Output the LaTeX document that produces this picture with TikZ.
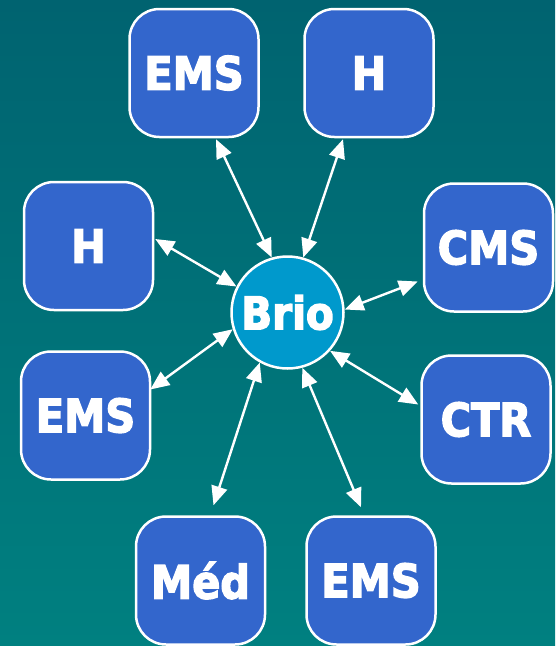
\documentclass[tikz,border=0pt]{standalone}
\usepackage{fontspec}
\setmainfont{DejaVu Sans Condensed}[BoldFeatures={FakeBold=3}]
\usetikzlibrary{arrows.meta,calc}
\definecolor{bgtop}{RGB}{0,99,112}
\definecolor{bgbot}{RGB}{0,128,128}
\definecolor{boxblue}{RGB}{51,102,204}
\definecolor{briob}{RGB}{0,153,204}
\tikzset{
  box/.style={draw=white, line width=2.5pt, fill=boxblue, rounded corners=30pt,
    minimum width=129pt, minimum height=128pt, inner sep=0pt,
    text=white, font=\fontsize{46}{50}\selectfont\bfseries},
  hub/.style={draw=white, line width=2.5pt, fill=briob, circle, minimum size=112pt,
    inner sep=0pt, text=white, font=\fontsize{45}{50}\selectfont\bfseries},
  link/.style={draw=white, line width=2.4pt, {Triangle[length=19pt,width=16pt]}-{Triangle[length=19pt,width=16pt]}}
}
\begin{document}
\begin{tikzpicture}[x=1pt,y=-1pt]
\shade[top color=bgtop, bottom color=bgbot] (0,0) rectangle (555,646);
\useasboundingbox (0,0) rectangle (555,646);
\node[hub] (brio) at (287.5,312.5) {Brio};
\node[box] (emsT) at (194,73) {EMS};
\node[box] (hT) at (369,73) {H};
\node[box] (hL) at (88.5,246) {H};
\node[box] (cms) at (488.5,247.5) {CMS};
\node[box] (emsL) at (85.5,415.5) {EMS};
\node[box] (ctr) at (486,419.5) {CTR};
\node[box] (med) at (200.5,580.5) {Méd};
\node[box] (emsB) at (371,580.5) {EMS};
\coordinate (pemsT) at ($(emsT.south)+(22,1)$);
\coordinate (phT) at ($(hT.south)+(-26,1)$);
\coordinate (phL) at ($(hL.east)+(1,-7)$);
\coordinate (pcms) at ($(cms.west)+(-5,34)$);
\coordinate (pemsL) at ($(emsL.east)+(-1,-26)$);
\coordinate (pctr) at ($(ctr.west)+(-2,-15)$);
\coordinate (pmed) at ($(med.north)+(13,-10)$);
\coordinate (pemsB) at ($(emsB.north)+(-10,-8)$);
\draw[link] (brio.106) -- (pemsT);
\draw[link] (brio.74) -- (phT);
\draw[link] (brio.153) -- (phL);
\draw[link] (brio.3) -- (pcms);
\draw[link] (brio.197) -- (pemsL);
\draw[link] (brio.318) -- (pctr);
\draw[link] (brio.241) -- (pmed);
\draw[link] (brio.285) -- (pemsB);
\end{tikzpicture}
\end{document}
